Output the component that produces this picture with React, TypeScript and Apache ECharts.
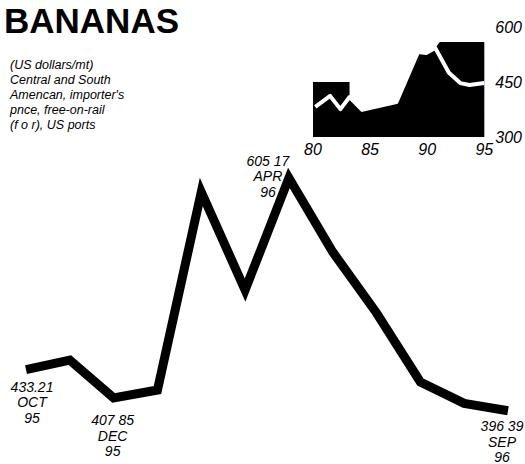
import React, { useEffect, useRef } from "react";
import * as echarts from "echarts";

const months = ["OCT 95", "NOV 95", "DEC 95", "JAN 96", "FEB 96", "MAR 96", "APR 96", "MAY 96", "JUN 96", "JUL 96", "AUG 96", "SEP 96"];
const prices = [433.21, 441.9, 407.85, 415.0, 592.6, 504.7, 605.17, 538.8, 484.1, 422.2, 403.0, 396.39];
const annotations = [
  { index: 0, value: "433.21", month: "OCT", year: "95" },
  { index: 2, value: "407 85", month: "DEC", year: "95" },
  { index: 6, value: "605 17", month: "APR", year: "96" },
  { index: 11, value: "396 39", month: "SEP", year: "96" },
];
const title = "BANANAS";
const subtitleLines = ["(US dollars/mt)", "Central and South", "Amencan, importer's", "pnce, free-on-rail", "(f o r), US ports"];

const insetRangeYears = [80, 83.2, 83.2, 84.3, 87.3, 89.2, 89.9, 90.7, 91.1, 95];
const insetRangeValues = [450, 450, 409, 374, 395, 532, 529, 543, 559, 559];
const insetLineYears = [80.2, 81.5, 82.4, 83.2, 84.3, 87.3, 89.2, 89.9, 90.7, 91.9, 92.9, 93.7, 95];
const insetLineValues = [382, 412, 376, 409, 374, 395, 532, 529, 543, 475, 447, 442, 447];
const insetYearMin = 80;
const insetYearMax = 95;
const insetYearStep = 5;
const insetValueMin = 300;
const insetValueMax = 600;
const insetValueStep = 150;

const FONT = "'Liberation Sans', Arial, sans-serif";

const placement: Record<number, any> = {
  0: { position: "bottom", distance: 9, offset: [6, 0] },
  2: { position: "bottom", distance: 14, offset: [-1, 0] },
  6: { position: "top", distance: 0, offset: [-21, 22] },
  11: { position: "bottom", distance: 7, offset: [-6, 0] },
};

export default function App() {
  const ref = useRef<HTMLDivElement>(null);
  useEffect(() => {
    document.body.style.margin = "0";
    const chart = echarts.init(ref.current!, null, { renderer: "svg" });
    const mainData = prices.map((v, i) => {
      const a = annotations.find((x) => x.index === i);
      if (!a) return v;
      return {
        value: v,
        label: {
          show: true,
          ...placement[i],
          formatter: `${a.value}\n${a.month}\n${a.year}`,
          color: "#000",
          fontFamily: FONT,
          fontStyle: "italic",
          fontSize: 14,
          lineHeight: 15.5,
          align: "center",
        },
      };
    });
    const option: any = {
      animation: false,
      backgroundColor: "#fff",
      graphic: [
        {
          type: "text",
          left: 4,
          top: 3,
          style: { text: title, font: `bold 35px ${FONT}`, fill: "#000" },
        },
        {
          type: "text",
          left: 10,
          top: 57,
          style: {
            text: subtitleLines.join("\n"),
            font: `italic 12.5px ${FONT}`,
            lineHeight: 15,
            fill: "#000",
          },
        },
      ],
      grid: [
        { left: 26, right: 17, top: 128, bottom: 1.5 },
        { left: 313, width: 175, top: 27, height: 110 },
      ],
      xAxis: [
        {
          type: "category",
          data: months,
          boundaryGap: false,
          gridIndex: 0,
          show: false,
        },
        {
          type: "value",
          gridIndex: 1,
          min: insetYearMin,
          max: insetYearMax,
          interval: insetYearStep,
          axisLine: { show: false },
          axisTick: { show: false },
          splitLine: { show: false },
          axisLabel: {
            color: "#000",
            fontFamily: FONT,
            fontStyle: "italic",
            fontSize: 16,
            margin: 4,
          },
        },
      ],
      yAxis: [
        { type: "value", gridIndex: 0, min: 350, max: 650, show: false },
        {
          type: "value",
          gridIndex: 1,
          position: "right",
          min: insetValueMin,
          max: insetValueMax,
          interval: insetValueStep,
          axisLine: { show: false },
          axisTick: { show: false },
          splitLine: { show: false },
          axisLabel: {
            color: "#000",
            fontFamily: FONT,
            fontStyle: "italic",
            fontSize: 16,
            margin: 11,
          },
        },
      ],
      series: [
        {
          type: "line",
          xAxisIndex: 0,
          yAxisIndex: 0,
          data: mainData,
          symbol: "circle",
          symbolSize: 1,
          showSymbol: true,
          clip: false,
          itemStyle: { color: "rgba(0,0,0,0)" },
          lineStyle: { color: "#000", width: 9, join: "miter", cap: "butt", miterLimit: 6 },
          z: 3,
        },
        {
          type: "line",
          xAxisIndex: 1,
          yAxisIndex: 1,
          data: insetRangeYears.map((x, i) => [x, insetRangeValues[i]]),
          symbol: "none",
          lineStyle: { width: 0, color: "#000" },
          areaStyle: { color: "#000", opacity: 1, origin: "start" },
          z: 2,
        },
        {
          type: "line",
          xAxisIndex: 1,
          yAxisIndex: 1,
          data: insetLineYears.map((x, i) => [x, insetLineValues[i]]),
          symbol: "none",
          lineStyle: { width: 4, color: "#fff", join: "round" },
          z: 3,
        },
      ],
    };
    chart.setOption(option);
    return () => chart.dispose();
  }, []);
  return <div ref={ref} style={{ width: 525, height: 464 }} />;
}
